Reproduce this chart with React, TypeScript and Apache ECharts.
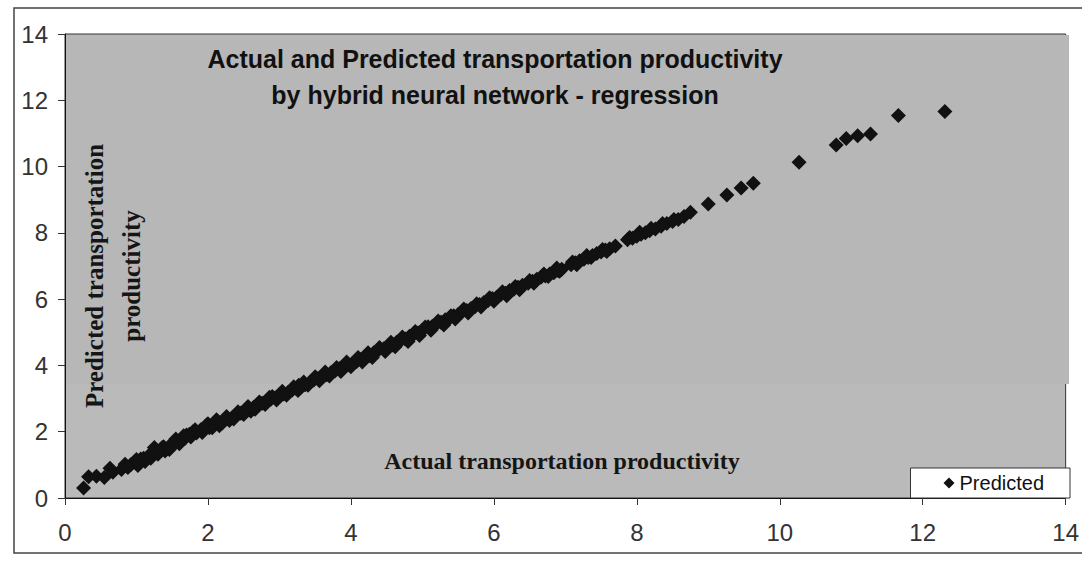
import React, { useEffect, useRef } from "react";
import * as echarts from "echarts";

// Axis ticks (both axes share the same scale)
const axisTicks = [0, 2, 4, 6, 8, 10, 12, 14];

// [actual, predicted] pairs
const lowCluster: [number, number][] = [
  [0.26, 0.3], [0.33, 0.64], [0.44, 0.66], [0.55, 0.62], [0.63, 0.9], [0.67, 0.78],
  [0.79, 0.86], [0.84, 1.02], [0.92, 1.0], [0.98, 1.12], [1.02, 0.98], [1.06, 1.18],
  [1.12, 1.1], [1.18, 1.3], [1.2, 1.2], [1.25, 1.52], [1.28, 1.38], [1.33, 1.45],
  [1.38, 1.55], [1.4, 1.42], [1.44, 1.5], [1.5, 1.62], [1.55, 1.78], [1.56, 1.7],
  [1.62, 1.74], [1.68, 1.8], [1.7, 1.9], [1.74, 1.92], [1.79, 2.0], [1.84, 1.96],
  [1.9, 2.06], [1.96, 2.14], [2.0, 2.24], [2.02, 2.12], [2.08, 2.22], [2.14, 2.3],
  [2.16, 2.18], [2.22, 2.34], [2.28, 2.4], [2.3, 2.34], [2.34, 2.42], [2.4, 2.52],
  [2.46, 2.56], [2.52, 2.6], [2.58, 2.7], [2.6, 2.62], [2.64, 2.74], [2.7, 2.8],
  [2.76, 2.86], [2.82, 2.9], [2.88, 2.98], [2.9, 3.06], [2.94, 3.02], [3.0, 3.08],
  [3.06, 3.14], [3.12, 3.18], [3.18, 3.26], [3.24, 3.3], [3.27, 3.4], [3.3, 3.34],
];

const middleBand: [number, number][] = [
  [3.36, 3.42], [3.42, 3.48], [3.48, 3.56], [3.54, 3.6], [3.6, 3.66], [3.66, 3.72],
  [3.72, 3.78], [3.78, 3.84], [3.84, 3.9], [3.9, 3.96], [3.96, 4.02], [4.02, 4.06],
  [4.08, 4.12], [4.14, 4.18], [4.2, 4.26], [4.26, 4.3], [4.32, 4.38], [4.39, 4.47],
  [4.46, 4.5], [4.52, 4.58], [4.58, 4.62], [4.64, 4.7], [4.7, 4.76], [4.76, 4.8],
  [4.82, 4.88], [4.88, 4.94], [4.94, 4.98], [5.0, 5.06], [5.08, 5.17], [5.14, 5.18],
  [5.2, 5.26], [5.26, 5.3], [5.32, 5.38], [5.38, 5.42], [5.44, 5.5], [5.5, 5.54],
  [5.56, 5.62], [5.62, 5.66], [5.68, 5.72], [5.74, 5.78], [5.8, 5.84], [5.86, 5.9],
  [5.92, 5.96], [5.98, 6.02], [6.04, 6.06], [6.1, 6.14], [6.16, 6.18], [6.22, 6.26],
  [6.28, 6.3], [6.34, 6.36], [6.4, 6.42], [6.48, 6.48], [6.54, 6.54], [6.6, 6.6],
  [6.66, 6.66], [6.72, 6.7], [6.78, 6.76], [6.84, 6.8], [6.9, 6.86], [6.95, 6.9],
];

const bandSpread: [number, number][] = [
  [0.88, 0.92], [1.0, 1.16], [1.1, 1.2], [1.22, 1.36], [1.3, 1.32], [1.36, 1.52],
  [1.46, 1.46], [1.52, 1.7], [1.6, 1.64], [1.66, 1.88], [1.76, 1.84], [1.82, 2.06],
  [1.92, 1.98], [1.98, 2.2], [2.06, 2.12], [2.12, 2.36], [2.2, 2.26], [2.26, 2.46],
  [2.36, 2.38], [2.42, 2.6], [2.5, 2.52], [2.56, 2.76], [2.66, 2.68], [2.72, 2.9],
  [2.8, 2.82], [2.86, 3.04], [2.96, 2.96], [3.04, 3.22], [3.1, 3.1], [3.2, 3.36],
  [3.26, 3.24], [3.34, 3.5], [3.4, 3.4], [3.5, 3.66], [3.56, 3.54], [3.64, 3.8],
  [3.7, 3.68], [3.8, 3.94], [3.86, 3.82], [3.94, 4.1], [4.0, 3.96], [4.1, 4.24],
  [4.16, 4.1], [4.24, 4.38], [4.3, 4.24], [4.4, 4.54], [4.48, 4.42], [4.56, 4.7],
  [4.62, 4.56], [4.72, 4.86], [4.8, 4.72], [4.9, 5.02], [4.96, 4.9], [5.04, 5.16],
  [5.12, 5.06], [5.22, 5.34], [5.3, 5.22], [5.4, 5.5], [5.46, 5.4], [5.58, 5.7],
  [5.64, 5.58], [5.76, 5.86], [5.82, 5.76], [5.94, 6.04], [6.0, 5.94], [6.12, 6.22],
  [6.18, 6.1], [6.3, 6.38], [6.36, 6.28], [6.5, 6.56], [6.56, 6.48], [6.7, 6.76],
  [6.76, 6.68], [6.88, 6.94], [6.92, 6.84], [7.1, 7.12], [7.16, 7.04], [7.3, 7.32],
  [7.36, 7.26], [7.52, 7.5], [7.58, 7.44], [7.9, 7.86], [8.04, 8.02], [8.2, 8.14],
  [8.36, 8.28], [8.52, 8.4],
];

const upperBand: [number, number][] = [
  [7.08, 7.04], [7.14, 7.1], [7.2, 7.16], [7.26, 7.2], [7.32, 7.26], [7.38, 7.32],
  [7.44, 7.38], [7.5, 7.42], [7.56, 7.48], [7.62, 7.52], [7.7, 7.6],
  [7.87, 7.79], [7.94, 7.84], [8.0, 7.9], [8.06, 7.96], [8.12, 8.0], [8.18, 8.06],
  [8.26, 8.12], [8.34, 8.2], [8.42, 8.28], [8.5, 8.34], [8.58, 8.4], [8.66, 8.49],
  [8.75, 8.62], [9.0, 8.87], [9.26, 9.14], [9.46, 9.35], [9.63, 9.5],
];

const highOutliers: [number, number][] = [
  [10.27, 10.13], [10.79, 10.65], [10.93, 10.85], [11.09, 10.93], [11.27, 10.98],
  [11.66, 11.54], [12.31, 11.66],
];

const GRID = { left: 65, right: 12, top: 34, bottom: 63 };

export default function App() {
  const ref = useRef<HTMLDivElement>(null);

  useEffect(() => {
    if (!ref.current) return;
    const chart = echarts.init(ref.current, undefined, { renderer: "svg" });
    const sans = "'Liberation Sans', Arial, sans-serif";
    const serif = "'Liberation Serif', 'Times New Roman', serif";
    const plotW = 1082 - GRID.left - GRID.right;

    chart.setOption({
      animation: false,
      backgroundColor: "#ffffff",
      grid: {
        ...GRID,
        show: true,
        backgroundColor: "#bababa",
        borderColor: "#333",
        borderWidth: 1,
      },
      xAxis: {
        type: "value",
        min: axisTicks[0],
        max: axisTicks[axisTicks.length - 1],
        interval: axisTicks[1] - axisTicks[0],
        splitLine: { show: false },
        axisLine: { show: true, lineStyle: { color: "#111", width: 1 } },
        axisTick: { show: true, inside: false, length: 7, lineStyle: { color: "#333" } },
        axisLabel: { color: "#333", fontSize: 24, fontFamily: sans, margin: 22 },
      },
      yAxis: {
        type: "value",
        min: axisTicks[0],
        max: axisTicks[axisTicks.length - 1],
        interval: axisTicks[1] - axisTicks[0],
        splitLine: { show: false },
        axisLine: { show: true, lineStyle: { color: "#111", width: 1 } },
        axisTick: { show: true, inside: false, length: 7, lineStyle: { color: "#333" } },
        axisLabel: { color: "#333", fontSize: 24, fontFamily: sans, margin: 17 },
      },
      legend: {
        data: ["Predicted"],
        right: 12,
        bottom: 63,
        icon: "diamond",
        itemWidth: 11,
        itemHeight: 11,
        itemGap: 6,
        backgroundColor: "#ffffff",
        borderColor: "#333",
        borderWidth: 1,
        borderRadius: 0,
        padding: [5, 26, 5, 33],
        itemStyle: { opacity: 1 },
        textStyle: { fontSize: 20, fontFamily: sans, color: "#111" },
      },
      graphic: [
        {
          type: "rect",
          z: 1,
          silent: true,
          shape: { x: GRID.left + 1, y: GRID.top + 1, width: plotW - 2, height: 383 - GRID.top },
          style: { fill: "#b7b7b7" },
        },
        {
          type: "rect",
          z: 0,
          silent: true,
          shape: { x: 14, y: 8, width: 1090, height: 545 },
          style: { fill: "none", stroke: "#444", lineWidth: 1.5 },
        },
        {
          type: "text",
          z: 10,
          x: 495,
          y: 77,
          style: {
            text: "Actual and Predicted transportation productivity\nby hybrid neural network - regression",
            fill: "#111",
            font: `bold 25px ${sans}`,
            lineHeight: 36,
            align: "center",
            verticalAlign: "middle",
          },
        },
        {
          type: "text",
          z: 10,
          x: 113,
          y: 276,
          rotation: Math.PI / 2,
          style: {
            text: "Predicted transportation\nproductivity",
            fill: "#151515",
            font: `bold 25px ${serif}`,
            lineHeight: 37,
            align: "center",
            verticalAlign: "middle",
          },
        },
        {
          type: "text",
          z: 10,
          x: 562,
          y: 461,
          style: {
            text: "Actual transportation productivity",
            fill: "#151515",
            font: `bold 24px ${serif}`,
            align: "center",
            verticalAlign: "middle",
          },
        },
      ],
      series: [
        {
          name: "Predicted",
          type: "scatter",
          symbol: "diamond",
          symbolSize: 15,
          z: 5,
          itemStyle: { color: "#111111", opacity: 1 },
          data: [...lowCluster, ...middleBand, ...bandSpread, ...upperBand, ...highOutliers],
        },
      ],
    });
    return () => chart.dispose();
  }, []);

  return (
    <div
      ref={ref}
      style={{ position: "fixed", left: 0, top: 0, width: 1082, height: 561, background: "#fff" }}
    />
  );
}
